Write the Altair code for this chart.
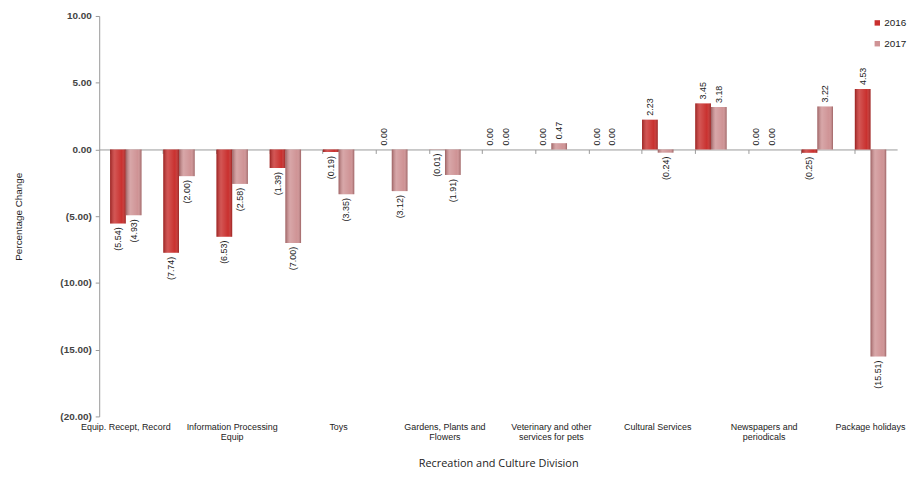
import altair as alt
import pandas as pd

categories = [
    "Equip. Recept, Record",
    "Photographic & Cinematographic Equip",
    "Information Processing Equip",
    "Recording Media",
    "Toys",
    "Equipment for Sport",
    "Gardens, Plants and Flowers",
    "Pets and Related Products",
    "Veterinary and other services for pets",
    "Recreational and Sporting Services",
    "Cultural Services",
    "Books",
    "Newspapers and periodicals",
    "Stationery",
    "Package holidays",
]
values_2016 = [-5.54, -7.74, -6.53, -1.39, -0.19, 0.00, -0.01, 0.00, 0.00, 0.00, 2.23, 3.45, 0.00, -0.25, 4.53]
values_2017 = [-4.93, -2.00, -2.58, -7.00, -3.35, -3.12, -1.91, 0.00, 0.47, 0.00, -0.24, 3.18, 0.00, 3.22, -15.51]
years = ["2016", "2017"]

# category labels shown on the axis (every other one), with line breaks
shown_labels = {
    "Equip. Recept, Record": ["Equip. Recept, Record"],
    "Information Processing Equip": ["Information Processing", "Equip"],
    "Toys": ["Toys"],
    "Gardens, Plants and Flowers": ["Gardens, Plants and", "Flowers"],
    "Veterinary and other services for pets": ["Veterinary and other", "services for pets"],
    "Cultural Services": ["Cultural Services"],
    "Newspapers and periodicals": ["Newspapers and", "periodicals"],
    "Package holidays": ["Package holidays"],
}

rows = []
for c, a, b in zip(categories, values_2016, values_2017):
    rows.append({"category": c, "year": "2016", "value": a})
    rows.append({"category": c, "year": "2017", "value": b})
df = pd.DataFrame(rows)
cat_df = pd.DataFrame({"category": categories})

label_expr = ""
for k, v in shown_labels.items():
    arr = "[" + ",".join("'" + s + "'" for s in v) + "]"
    label_expr += f"datum.value == '{k}' ? {arr} : "
label_expr += "''"

FONT = "Liberation Sans"
xscale = alt.Scale(domain=categories, paddingInner=0.41, paddingOuter=0.205)
off = alt.XOffset("year:N", scale=alt.Scale(domain=years, paddingInner=0, paddingOuter=0))
yscale = alt.Scale(domain=[-20, 10], nice=False, zero=False)

x_label_axis = alt.Axis(
    orient="bottom",
    title="Recreation and Culture Division",
    titleFont="Open Sans", titleFontSize=11, titleFontWeight="normal", titleColor="#222222",
    titlePadding=17,
    labelExpr=label_expr, labelAngle=0, labelOverlap=False, labelBound=False,
    labelFont=FONT, labelFontSize=9, labelFontWeight="normal", labelColor="#222222",
    labelPadding=6, labelLimit=0, labelLineHeight=10,
    domain=False, ticks=False, grid=False,
)

y_axis = alt.Axis(
    title="Percentage Change", titleFont=FONT, titleFontSize=10, titleFontWeight="normal",
    titleColor="#222222", titlePadding=37,
    values=[-20, -15, -10, -5, 0, 5, 10],
    labelExpr="datum.value < 0 ? '(' + format(-datum.value, '.2f') + ')' : format(datum.value, '.2f')",
    labelFont=FONT, labelFontSize=10, labelFontWeight="bold", labelColor="#444444", labelPadding=4,
    domainColor="#999999", tickColor="#999999", tickSize=4, grid=False,
)

x = alt.X("category:N", sort=categories, scale=xscale, axis=x_label_axis)
x_noaxis = alt.X("category:N", sort=categories, scale=xscale, axis=None)
y = alt.Y("value:Q", scale=yscale, axis=y_axis)

base = alt.Chart(df)

bars = base.mark_bar(size=15.8).encode(
    x=x, xOffset=off, y=y,
    color=alt.Color("year:N", scale=alt.Scale(domain=years, range=["#C9302E", "#CF9395"]),
                    legend=alt.Legend(title=None, orient="none", legendX=780, legendY=2,
                                      symbolType="square", symbolSize=30, symbolStrokeWidth=0,
                                      labelFont=FONT, labelFontSize=10, labelColor="#222222",
                                      rowPadding=11, labelOffset=2)),
)

shade = base.mark_bar(
    color=alt.Gradient(
        gradient="linear", x1=0, x2=1, y1=0, y2=0,
        stops=[
            alt.GradientStop(offset=0, color="rgba(60,0,0,0.35)"),
            alt.GradientStop(offset=0.3, color="rgba(255,255,255,0.18)"),
            alt.GradientStop(offset=0.75, color="rgba(255,255,255,0.0)"),
            alt.GradientStop(offset=1, color="rgba(60,0,0,0.35)"),
        ],
    )
).encode(x=x_noaxis, xOffset=off, y=y)

lab = base.transform_calculate(
    label="datum.value < 0 ? '(' + format(-datum.value, '.2f') + ')' : format(datum.value, '.2f')"
)
text_pos = lab.transform_filter("datum.value >= 0").mark_text(
    angle=270, align="left", baseline="middle", dx=4, font=FONT, fontSize=9, color="#222222"
).encode(x=x_noaxis, xOffset=off, y=y, text="label:N")
text_neg = lab.transform_filter("datum.value < 0").mark_text(
    angle=270, align="right", baseline="middle", dx=-4, font=FONT, fontSize=9, color="#222222"
).encode(x=x_noaxis, xOffset=off, y=y, text="label:N")

zero_axis = alt.Axis(
    orient="bottom",
    title=None, labels=False, domain=True, ticks=True, grid=False,
    domainColor="#999999", tickColor="#999999", tickSize=4, bandPosition=0,
    offset=-(404 - 404 * 10 / 30),
)
zero = alt.Chart(cat_df).mark_point(opacity=0).encode(
    x=alt.X("category:N", sort=categories, scale=xscale, axis=zero_axis),
    y=alt.datum(0),
)

chart = alt.layer(zero, bars, shade, text_pos, text_neg).resolve_axis(x="independent").properties(
    width=805, height=404,
    autosize=alt.AutoSizeParams(type="none"),
    padding={"left": 92, "top": 6, "right": 14, "bottom": 52},
    background="white",
).configure_view(stroke=None)

chart.save("out.html", embed_options={"renderer": "svg", "actions": False})
